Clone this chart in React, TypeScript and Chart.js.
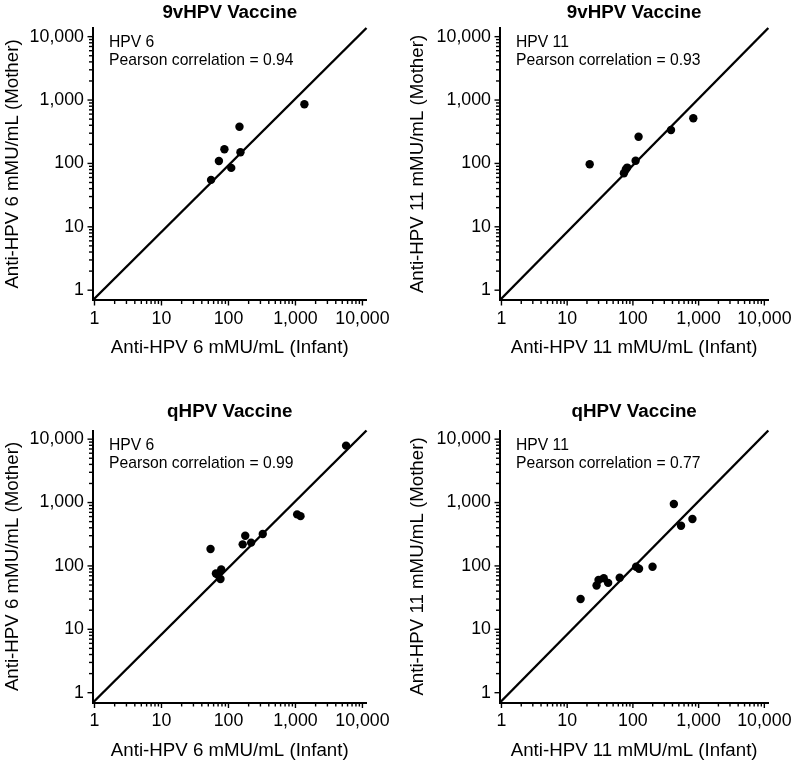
import React, { useEffect, useRef } from 'react';
import { Chart, registerables } from 'chart.js';

Chart.register(...registerables);

// ---- Data ----
const INFANT_9V_HPV6 = [55, 72, 87, 110, 146, 151, 1360];
const MOTHER_9V_HPV6 = [55, 109, 167, 85, 380, 150, 860];

const INFANT_9V_HPV11 = [22, 73, 78, 82, 110, 122, 380, 830];
const MOTHER_9V_HPV11 = [97, 70, 80, 86, 110, 264, 337, 515];

const INFANT_Q_HPV6 = [54, 65, 70, 76, 78, 163, 178, 218, 325, 1060, 1190, 5700];
const MOTHER_Q_HPV6 = [185, 76, 72, 62, 88, 219, 300, 233, 319, 650, 610, 7900];

const INFANT_Q_HPV11 = [16, 28, 30, 36, 42, 63, 112, 124, 199, 420, 540, 805];
const MOTHER_Q_HPV11 = [30, 49, 60, 64, 54, 65, 97, 90, 97, 950, 430, 550];

const MAJOR_TICKS = [1, 10, 100, 1000, 10000];
const MAJOR_LABELS = ['1', '10', '100', '1,000', '10,000'];
const MINOR_STEPS = [2, 3, 4, 5, 6, 7, 8, 9];

const X_MIN = 0.95;
const X_MAX = 11500;
const Y_MIN = 0.7;
const Y_MAX = 13700;

const ALL_TICKS: number[] = [];
MAJOR_TICKS.forEach((m, i) => {
  ALL_TICKS.push(m);
  if (i < MAJOR_TICKS.length - 1) MINOR_STEPS.forEach((k) => ALL_TICKS.push(m * k));
});

const FONT = "'Liberation Sans', Arial, Helvetica, sans-serif";

type Panel = {
  title: string;
  type: string;
  corr: string;
  infant: number[];
  mother: number[];
  left: number; top: number; W: number; H: number;
  L: number; R: number; T: number; B: number;
  titleCenter: number;
  yTitleCenter: number;
};

const PANELS: Panel[] = [
  { title: '9vHPV Vaccine', type: '6', corr: '0.94', infant: INFANT_9V_HPV6, mother: MOTHER_9V_HPV6,
    left: 0, top: 0, W: 400, H: 380, L: 93, R: 366.5, T: 28, B: 300, titleCenter: 12.5, yTitleCenter: 13 },
  { title: '9vHPV Vaccine', type: '11', corr: '0.93', infant: INFANT_9V_HPV11, mother: MOTHER_9V_HPV11,
    left: 400, top: 0, W: 400, H: 380, L: 100, R: 373.5, T: 28, B: 300, titleCenter: 12.5, yTitleCenter: 17.5 },
  { title: 'qHPV Vaccine', type: '6', corr: '0.99', infant: INFANT_Q_HPV6, mother: MOTHER_Q_HPV6,
    left: 0, top: 380, W: 400, H: 384, L: 93, R: 366.5, T: 50.5, B: 322.5, titleCenter: 32, yTitleCenter: 13 },
  { title: 'qHPV Vaccine', type: '11', corr: '0.77', infant: INFANT_Q_HPV11, mother: MOTHER_Q_HPV11,
    left: 400, top: 380, W: 400, H: 384, L: 100, R: 373.5, T: 50.5, B: 322.5, titleCenter: 32, yTitleCenter: 17.5 },
];

function tickLabel(_v: any, index: number, ticks: any[]) {
  const val = ticks[index].value;
  const i = MAJOR_TICKS.indexOf(val);
  return i >= 0 ? MAJOR_LABELS[i] : '';
}

function PanelChart({ p }: { p: Panel }) {
  const ref = useRef<HTMLCanvasElement | null>(null);
  useEffect(() => {
    if (!ref.current) return;
    const titleSize = 18.8;
    const titleLH = titleSize * 1.2;
    const titlePadTop = p.titleCenter - titleLH / 2;
    const titlePadBottom = p.T - titlePadTop - titleLH;
    const axTitleSize = 18.7;
    const axLH = axTitleSize * 1.2;
    const xTitlePadBottom = p.H - axLH / 2 - (p.B + 48);
    const yTitlePadTop = p.yTitleCenter - axLH / 2;

    const tickMarks = {
      id: 'tickMarks' + p.type + p.title,
      afterDraw(chart: any) {
        const ctx = chart.ctx;
        const xs = chart.scales.x;
        const ys = chart.scales.y;
        ctx.save();
        ctx.strokeStyle = '#000';
        ctx.lineWidth = 1.4;
        xs.ticks.forEach((t: any) => {
          const px = xs.getPixelForValue(t.value);
          const len = MAJOR_TICKS.includes(t.value) ? 5.5 : 4;
          ctx.beginPath();
          ctx.moveTo(px, xs.top);
          ctx.lineTo(px, xs.top + len);
          ctx.stroke();
        });
        ys.ticks.forEach((t: any) => {
          const py = ys.getPixelForValue(t.value);
          const len = MAJOR_TICKS.includes(t.value) ? 5.5 : 4;
          ctx.beginPath();
          ctx.moveTo(ys.right, py);
          ctx.lineTo(ys.right - len, py);
          ctx.stroke();
        });
        // annotation
        const ca = chart.chartArea;
        ctx.fillStyle = '#000';
        ctx.font = `15.7px ${FONT}`;
        ctx.textAlign = 'left';
        ctx.textBaseline = 'middle';
        ctx.fillText(`HPV ${p.type}`, ca.left + 16, ca.top + 15);
        ctx.fillText(`Pearson correlation = ${p.corr}`, ca.left + 16, ca.top + 33);
        ctx.restore();
      },
    };

    const points = p.infant.map((v, i) => ({ x: v, y: p.mother[i] }));

    const chart = new Chart(ref.current, {
      type: 'scatter',
      data: {
        datasets: [
          {
            data: [{ x: X_MIN, y: Y_MIN }, { x: X_MAX, y: Y_MAX }],
            showLine: true,
            borderColor: '#000',
            borderWidth: 2.4,
            pointRadius: 0,
            clip: false as any,
          },
          {
            data: points,
            backgroundColor: '#000',
            borderWidth: 0,
            pointRadius: 4.2,
          },
        ],
      },
      options: {
        animation: false,
        responsive: false,
        devicePixelRatio: 1,
        layout: { padding: { left: 0, top: 0, bottom: 0, right: p.W - p.R } },
        plugins: {
          legend: { display: false },
          tooltip: { enabled: false },
          title: {
            display: true,
            text: p.title,
            color: '#000',
            fullSize: false,
            font: { family: FONT, size: titleSize, weight: 'bold', lineHeight: 1.2 },
            padding: { top: titlePadTop, bottom: titlePadBottom },
          },
        },
        scales: {
          x: {
            type: 'logarithmic',
            min: X_MIN,
            max: X_MAX,
            afterBuildTicks: (scale: any) => {
              scale.ticks = ALL_TICKS.map((v) => ({ value: v, major: MAJOR_TICKS.includes(v) }));
            },
            afterFit: (scale: any) => { scale.height = p.H - p.B; },
            grid: { display: false, drawTicks: false },
            border: { display: true, color: '#000', width: 2 },
            ticks: {
              autoSkip: false,
              maxRotation: 0,
              padding: 8,
              color: '#000',
              font: { family: FONT, size: 17.8 },
              callback: tickLabel as any,
            },
            title: {
              display: true,
              text: `Anti-HPV ${p.type} mMU/mL (Infant)`,
              color: '#000',
              font: { family: FONT, size: axTitleSize, lineHeight: 1.2 },
              padding: { top: 0, bottom: xTitlePadBottom },
            },
          },
          y: {
            type: 'logarithmic',
            min: Y_MIN,
            max: Y_MAX,
            afterBuildTicks: (scale: any) => {
              scale.ticks = ALL_TICKS.map((v) => ({ value: v, major: MAJOR_TICKS.includes(v) }));
            },
            afterFit: (scale: any) => { scale.width = p.L; },
            grid: { display: false, drawTicks: false },
            border: { display: true, color: '#000', width: 2 },
            ticks: {
              autoSkip: false,
              padding: 9,
              color: '#000',
              font: { family: FONT, size: 17.8 },
              callback: tickLabel as any,
            },
            title: {
              display: true,
              text: `Anti-HPV ${p.type} mMU/mL (Mother)`,
              color: '#000',
              font: { family: FONT, size: axTitleSize, lineHeight: 1.2 },
              padding: { top: yTitlePadTop, bottom: 0 },
            },
          },
        },
      },
      plugins: [tickMarks as any],
    } as any);
    return () => chart.destroy();
  }, [p]);

  return (
    <canvas
      ref={ref}
      width={p.W}
      height={p.H}
      style={{ position: 'absolute', left: p.left, top: p.top, width: p.W, height: p.H }}
    />
  );
}

export default function App() {
  return (
    <div style={{ position: 'absolute', left: 0, top: 0, width: 800, height: 764, overflow: 'hidden', background: '#fff' }}>
      {PANELS.map((p, i) => (
        <PanelChart key={i} p={p} />
      ))}
    </div>
  );
}
